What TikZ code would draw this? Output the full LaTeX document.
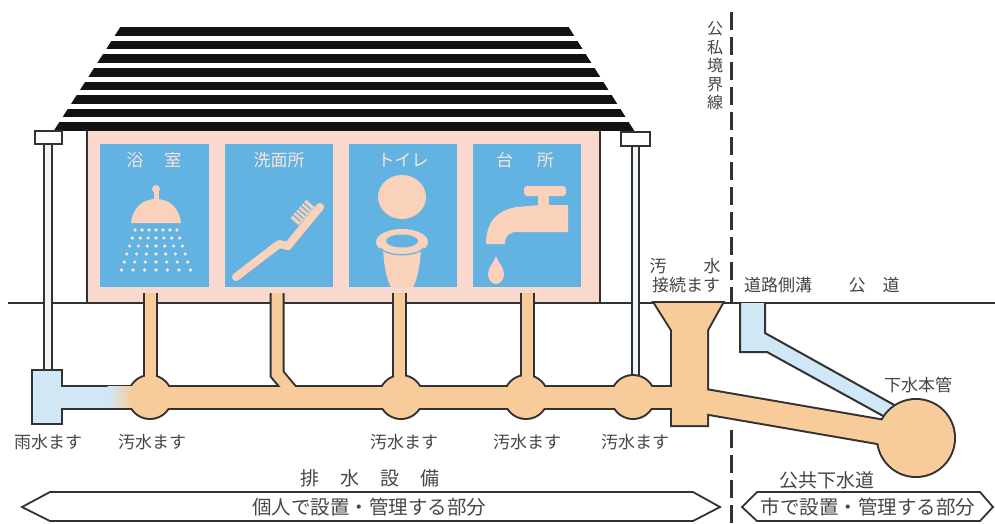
\documentclass[tikz,border=0pt]{standalone}
\usepackage{fontspec}
\setmainfont{Noto Sans CJK JP}
\definecolor{wallpink}{RGB}{249,217,205}
\definecolor{panelblue}{RGB}{98,178,226}
\definecolor{iconpink}{RGB}{250,210,188}
\definecolor{paneltxt}{RGB}{251,228,218}
\definecolor{pipepeach}{RGB}{248,203,154}
\definecolor{rainblue}{RGB}{208,232,246}
\definecolor{pipewhite}{RGB}{238,246,251}
\definecolor{ink}{RGB}{50,50,50}
\definecolor{roofblack}{RGB}{18,18,18}
\definecolor{txtgray}{RGB}{70,70,70}
\begin{document}
\begin{tikzpicture}[x=1pt,y=-1pt,
  lbl/.style={inner sep=0pt, text=txtgray, font=\fontsize{17}{17}\selectfont},
  roomlbl/.style={inner sep=0pt, text=paneltxt, font=\fontsize{17}{17}\selectfont},
  biglbl/.style={inner sep=0pt, text=txtgray, font=\fontsize{19}{19}\selectfont},
  bandlbl/.style={inner sep=0pt, text=txtgray, font=\fontsize{19.5}{19.5}\selectfont},
  bandbox/.style={draw=ink, line width=1.8, fill=white, line join=miter},
  edgeline/.style={draw=ink, line width=2},
  panel/.style={fill=panelblue},
]
\useasboundingbox (0,0) rectangle (995,523);
\fill[white] (0,0) rectangle (995,523);

% ---- house wall and rooms ----
\fill[wallpink] (87,131) rectangle (600,303);
\fill[panel] (100,144) rectangle (209,287);
\fill[panel] (225,144) rectangle (333,287);
\fill[panel] (349,144) rectangle (457,287);
\fill[panel] (473,144) rectangle (581,287);
\draw[edgeline] (87,131) -- (87,303);
\draw[edgeline] (600,131) -- (600,303);

% shower
\fill[iconpink] (156,189) circle (4pt);
\fill[iconpink] (153.5,191) rectangle (158.5,201);
\fill[iconpink] (131,223) .. controls (133,206) and (144,199) .. (156,199)
  .. controls (168,199) and (179,206) .. (181,223) -- cycle;
\foreach \r in {0,...,5}
  \foreach \c in {-3,...,3}
    \fill[paneltxt] ({156+\c*(7+\r*0.9)},{230+\r*8}) circle (1.8pt);

% toothbrush
\draw[iconpink, line width=8, line cap=round, line join=round]
  (236,277) -- (279,244) -- (288,246) -- (296,236) -- (320,207);
\fill[iconpink] (298.8,225.2) -- (290.5,218) -- (306.2,199.8) -- (314.5,207) -- cycle;
\foreach \ax/\ay/\bx/\by in {300.7/221.5/293.1/214.9, 303.3/218.5/295.7/211.9,
    305.9/215.5/298.3/208.9, 308.5/212.4/300.9/205.8, 311.2/209.4/303.6/202.8}
  \draw[panelblue, line width=1.2] (\ax,\ay) -- (\bx,\by);

% toilet
\fill[iconpink] (402,197) ellipse (24pt and 22pt);
\fill[iconpink] (383,248) -- (421,248) .. controls (420,270) and (416,282) .. (413,287)
  -- (391,287) .. controls (388,282) and (384,270) .. (383,248) -- cycle;
\fill[iconpink] (402,242) ellipse (26pt and 13pt);
\fill[panelblue] (402,241) ellipse (16pt and 6.5pt);
\draw[panelblue, line width=1.2] (380,248) .. controls (388,257) and (416,257) .. (424,248);

% faucet
\fill[iconpink, rounded corners=3pt] (524,186) rectangle (566,196);
\fill[iconpink] (538,195) rectangle (549,206);
\fill[iconpink] (568,205) -- (568,232) -- (517,232) .. controls (509,232) and (505,236) .. (505,244)
  -- (486,244) .. controls (486,222) and (497,210) .. (517,207) -- (540,205) -- cycle;
\fill[iconpink] (496,256) .. controls (498,263) and (504,267) .. (504,274)
  .. controls (504,280) and (500,284) .. (496,284) .. controls (492,284) and (488,280) .. (488,274)
  .. controls (488,267) and (494,263) .. (496,256) -- cycle;

% room names
\node[roomlbl] (t-bath) at (154,160) {浴\hspace{21pt}室};
\node[roomlbl] (t-wash) at (279,160) {洗面所};
\node[roomlbl] (t-wc)   at (403,160) {トイレ};
\node[roomlbl] (t-kit)  at (525,160) {台\hspace{24pt}所};

% ---- striped roof ----
\begin{scope}
  \clip (121,26) -- (568,26) -- (635,132) -- (53,132) -- cycle;
  \foreach \yc in {31.5,45.1,58.7,72.3,85.9,99.5,113.1,126.7}
    \fill[roofblack] (40,\yc-4.3) rectangle (660,\yc+4.3);
\end{scope}

% ---- ground line ----
\draw[ink, line width=2] (8,303) -- (995,303);

% ---- rain downspouts ----
\draw[ink, line width=10] (47.5,143) -- (47.5,372);
\draw[pipewhite, line width=6] (47.5,143) -- (47.5,372);
\draw[ink, line width=9.5] (635.5,145) -- (635.5,385);
\draw[pipewhite, line width=5.5] (635.5,145) -- (635.5,385);
\draw[edgeline, fill=white] (35,131) rectangle (62,144);
\draw[edgeline, fill=white] (621,132) rectangle (650,146);

% ---- road side gutter ----
\fill[rainblue] (740,303) -- (740,352) -- (767,352) -- (905,428) -- (905,411) -- (765,333) -- (765,303) -- cycle;
\draw[edgeline] (765,303) -- (765,333) -- (905,411);
\draw[edgeline] (740,303) -- (740,352) -- (767,352) -- (905,428);

% ---- sewer pipes ----
\coordinate (m1) at (150,397);
\coordinate (m2) at (401,397);
\coordinate (m3) at (526,397);
\coordinate (m4) at (633,397);
\coordinate (mainpipe) at (916,438);
\coordinate (cbox) at (690,399);

% outline layer
\fill[ink] (31,369) rectangle (63,425);
\fill[ink] (61,384.5) rectangle (692,409.5);
\foreach \m in {m1,m2,m3,m4} \fill[ink] (\m) circle (23pt);
\draw[ink, line width=15] (150,293) -- (m1);
\draw[ink, line width=15] (277,293) -- (277,374) -- (293,393);
\draw[ink, line width=15] (399,293) -- (399,392);
\draw[ink, line width=15] (527,293) -- (527,392);
\filldraw[ink, line width=4, line join=miter] (655,303) -- (672,330) -- (672,425) -- (707,425) -- (707,330) -- (722,303) -- cycle;
\draw[ink, line width=27] (cbox) -- (mainpipe);
\fill[ink] (mainpipe) circle (40pt);

% fill layer
\fill[rainblue] (33,371) rectangle (61,423);
\fill[rainblue] (60,386.5) rectangle (108,407.5);
\shade[left color=rainblue, right color=pipepeach] (107.5,386.5) rectangle (133,407.5);
\fill[pipepeach] (132.5,386.5) rectangle (692,407.5);
\foreach \m in {m1,m2,m3,m4} \fill[pipepeach] (\m) circle (21pt);
\draw[pipepeach, line width=11] (150,293) -- (m1);
\draw[pipepeach, line width=11] (277,293) -- (277,374) -- (293,393);
\draw[pipepeach, line width=11] (399,293) -- (399,392);
\draw[pipepeach, line width=11] (527,293) -- (527,392);
\fill[pipepeach] (655,303) -- (672,330) -- (672,425) -- (707,425) -- (707,330) -- (722,303) -- cycle;
\draw[pipepeach, line width=23] (cbox) -- (mainpipe);
\fill[pipepeach] (mainpipe) circle (38pt);

% ---- public / private boundary ----
\coordinate (bnd-top) at (731.5,12);
\coordinate (bnd-gnd) at (731.5,303);
\coordinate (bnd-low) at (731.5,430);
\coordinate (bnd-bot) at (731.5,523);
\draw[ink, line width=2.2, dash pattern=on 18pt off 7pt] (bnd-top) -- (bnd-gnd);
\draw[ink, line width=2.2, dash pattern=on 18pt off 7pt] (bnd-low) -- (bnd-bot);
\node[lbl, align=center, font=\fontsize{16}{18.5}\selectfont] (t-bound) at (715,66) {公\\私\\境\\界\\線};

% ---- labels ----
\node[lbl] (t-odo1) at (685,266) {汚\hspace{37pt}水};
\node[lbl] (t-odo2) at (686,285) {接続ます};
\node[lbl] (t-gutter) at (778,285) {道路側溝};
\node[lbl] (t-road) at (874,285) {公\hspace{17pt}道};
\node[lbl] (t-main) at (918,385) {下水本管};
\node[lbl] (t-rain) at (48,442) {雨水ます};
\node[lbl] (t-b1) at (152,442) {汚水ます};
\node[lbl] (t-b2) at (404,442) {汚水ます};
\node[lbl] (t-b3) at (527,442) {汚水ます};
\node[lbl] (t-b4) at (635,442) {汚水ます};
\node[biglbl] (t-drain) at (370,478) {排\hspace{21pt}水\hspace{21pt}設\hspace{21pt}備};
\node[biglbl] (t-public) at (827,480) {公共下水道};

% ---- responsibility bands ----
\draw[bandbox] (22,507) -- (50,492) -- (693,492) -- (720,507) -- (693,521) -- (50,521) -- cycle;
\draw[bandbox] (742,507) -- (757,492) -- (980,492) -- (993,507) -- (980,521) -- (757,521) -- cycle;
\node[bandlbl] (t-private) at (369,507) {個人で設置・管理する部分};
\node[bandlbl] (t-city) at (868,507) {市で設置・管理する部分};
\end{tikzpicture}
\end{document}
